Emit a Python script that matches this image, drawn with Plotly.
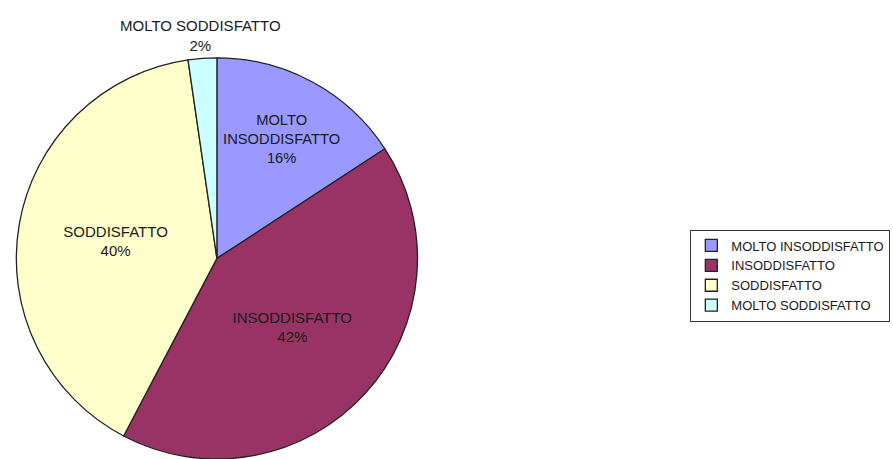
import plotly.graph_objects as go

categories = ["MOLTO INSODDISFATTO", "INSODDISFATTO", "SODDISFATTO", "MOLTO SODDISFATTO"]
display_labels = ["MOLTO<br>INSODDISFATTO", "INSODDISFATTO", "SODDISFATTO", "MOLTO SODDISFATTO"]
values = [15.8, 41.9, 40.0, 2.3]
colors = ["#9999FF", "#993366", "#FFFFCC", "#CCFFFF"]

FONT = "Liberation Sans, Arial, sans-serif"
texts = [f"{d}<br>{round(v)}%" for d, v in zip(display_labels, values)]

fig = go.Figure(go.Pie(
    labels=categories,
    values=values,
    text=texts,
    textinfo="text",
    hoverinfo="label+percent",
    sort=False,
    direction="clockwise",
    rotation=0,
    marker=dict(colors=colors, line=dict(color="#222222", width=1.3)),
    textposition=["inside", "inside", "inside", "none"],
    insidetextorientation="horizontal",
    textfont=dict(family=FONT, size=15, color="#1a1a1a"),
    domain=dict(x=[0.0168, 0.469], y=[0.0, 0.874]),
))

# outside label for the small slice
fig.add_annotation(
    x=0.224, y=0.878, xref="paper", yref="paper",
    xanchor="center", yanchor="bottom",
    text=texts[3], showarrow=False,
    font=dict(family=FONT, size=15, color="#1a1a1a"),
)

fig.update_layout(
    width=893, height=459,
    margin=dict(l=0, r=0, t=0, b=0),
    paper_bgcolor="white",
    plot_bgcolor="white",
    font=dict(family=FONT, size=13, color="#1a1a1a"),
    legend=dict(
        x=0.997, y=0.50, xanchor="right", yanchor="top",
        bordercolor="#333333", borderwidth=1,
        font=dict(size=13),
        itemwidth=30,
        tracegroupgap=0,
    ),
    showlegend=True,
)

fig.write_html("out.html", config={"displayModeBar": False})

# remove the default page margin so the figure sits at the window's top-left
with open("out.html", "r", encoding="utf-8") as f:
    html = f.read()
html = html.replace("<head>", "<head><style>html,body{margin:0;padding:0;overflow:hidden;}</style>", 1)
with open("out.html", "w", encoding="utf-8") as f:
    f.write(html)
